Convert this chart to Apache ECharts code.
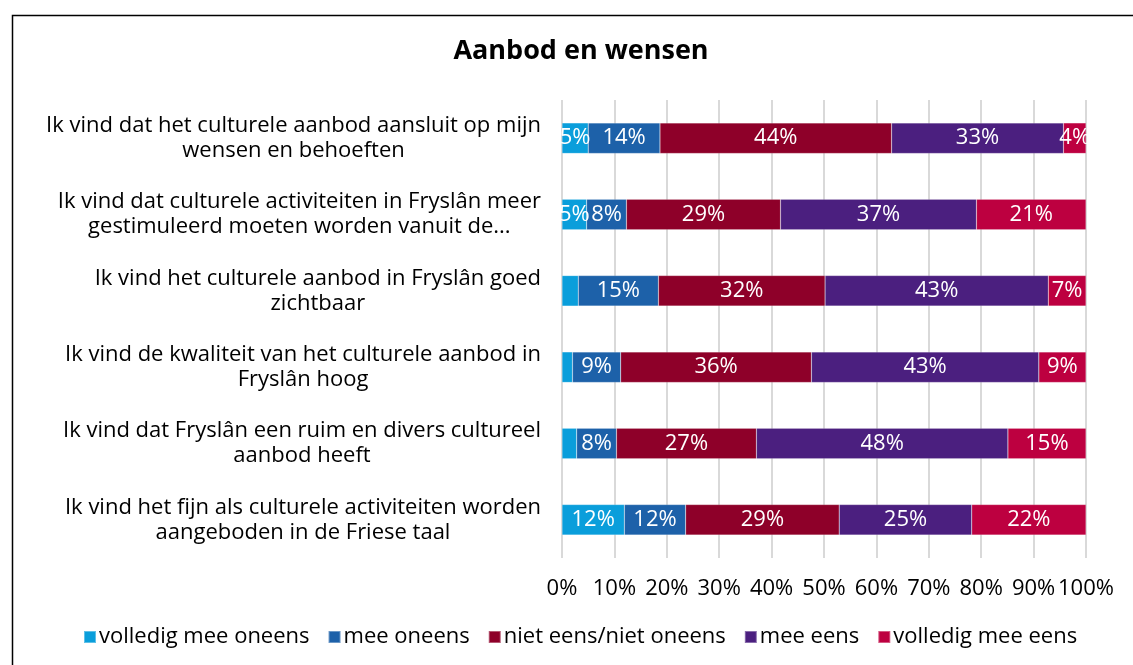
<!DOCTYPE html>
<html>
<head>
<meta charset="utf-8">
<script src="https://cdn.jsdelivr.net/npm/echarts@6/dist/echarts.min.js"></script>
<style>html,body{margin:0;padding:0;background:#fff;}#c{width:1133px;height:665px;}</style>
</head>
<body>
<div id="c"></div>
<script>
const categories = [
  "Ik vind dat het culturele aanbod aansluit op mijn\nwensen en behoeften",
  "Ik vind dat culturele activiteiten in Fryslân meer\ngestimuleerd moeten worden vanuit de...",
  "Ik vind het culturele aanbod in Fryslân goed\nzichtbaar",
  "Ik vind de kwaliteit van het culturele aanbod in\nFryslân hoog",
  "Ik vind dat Fryslân een ruim en divers cultureel\naanbod heeft",
  "Ik vind het fijn als culturele activiteiten worden\naangeboden in de Friese taal"
];
const seriesNames = ["volledig mee oneens", "mee oneens", "niet eens/niet oneens", "mee eens", "volledig mee eens"];
const volledigMeeOneens = [5.0, 4.7, 3.1, 2.0, 2.8, 11.9];
const meeOneens        = [13.7, 7.6, 15.3, 9.2, 7.6, 11.7];
const nietEensNietOneens = [44.2, 29.4, 31.8, 36.4, 26.7, 29.3];
const meeEens          = [32.8, 37.4, 42.6, 43.4, 48.0, 25.3];
const volledigMeeEens  = [4.3, 20.9, 7.2, 9.0, 14.9, 21.8];
const xTicks = [0, 10, 20, 30, 40, 50, 60, 70, 80, 90, 100];
const colors = ["#0A9EDB", "#1D61A9", "#8E0029", "#4B1F7F", "#BD0040"];

const seriesData = [volledigMeeOneens, meeOneens, nietEensNietOneens, meeEens, volledigMeeEens];
const FONT = "'Open Sans', 'Noto Sans', sans-serif";
const FS = 22;

const chart = echarts.init(document.getElementById('c'), null, {renderer: 'canvas'});
chart.setOption({
  animation: false,
  backgroundColor: '#fff',
  color: colors,
  title: {
    text: 'Aanbod en wensen',
    left: 576, top: 33, textAlign: 'center',
    textStyle: {fontFamily: FONT, fontSize: 27, fontWeight: 'bold', color: '#000'}
  },
  graphic: [{
    type: 'rect', left: 10, top: 13, silent: true,
    shape: {width: 1140, height: 680},
    style: {fill: 'none', stroke: '#000', lineWidth: 1.5}
  }],
  legend: {
    bottom: 12, left: 78,
    itemWidth: 12, itemHeight: 12, itemGap: 18,
    icon: 'rect',
    textStyle: {fontFamily: FONT, fontSize: FS, color: '#000', padding: [0,0,0,-2]},
    data: seriesNames
  },
  grid: {left: 562, right: 47, top: 100, bottom: 107, containLabel: false},
  xAxis: {
    type: 'value', min: 0, max: 100, interval: 10,
    axisLine: {show: false}, axisTick: {show: false},
    splitLine: {show: true, lineStyle: {color: '#D9D9D9', width: 2}},
    axisLabel: {
      fontFamily: FONT, fontSize: FS, color: '#000', margin: 20,
      formatter: function (v) { return xTicks.indexOf(v) >= 0 ? v + '%' : ''; }
    }
  },
  yAxis: {
    type: 'category', inverse: true, data: categories,
    axisLine: {show: false}, axisTick: {show: false},
    axisLabel: {
      margin: 21, align: 'right',
      fontFamily: FONT, fontSize: FS, color: '#000', lineHeight: 25,
      formatter: function (v) { return v.split('\n').map(function (l) { return '{c|' + l + '}'; }).join('\n'); },
      rich: {c: {align: 'center', fontFamily: FONT, fontSize: FS, color: '#000', lineHeight: 25}}
    }
  },
  series: seriesNames.map(function (name, i) {
    return {
      name: name, type: 'bar', stack: 'total', barCategoryGap: '60%',
      data: seriesData[i],
      itemStyle: {color: colors[i], borderColor: 'rgba(255,255,255,0.35)', borderWidth: 0.5},
      label: {
        show: true, position: 'inside', color: '#fff',
        fontFamily: FONT, fontSize: FS,
        formatter: function (p) { return p.value < 3.5 ? '' : Math.round(p.value) + '%'; }
      }
    };
  })
});
</script>
</body>
</html>
